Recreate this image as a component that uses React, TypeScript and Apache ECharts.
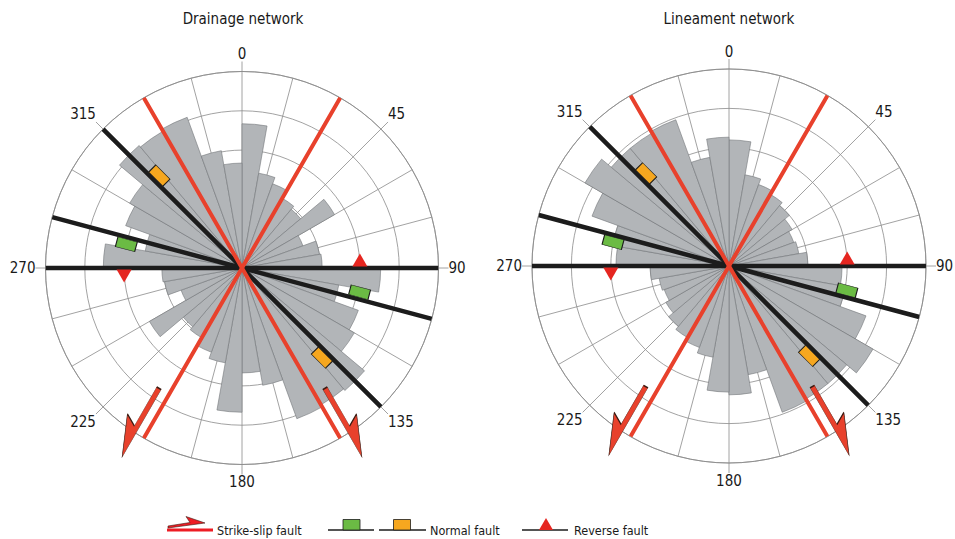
import React, { useEffect, useRef } from 'react';
import * as echarts from 'echarts';

// 10-degree orientation bins (0 = north, clockwise)
const binLabels = [
  '0', '10', '20', '30', '40', '50', '60', '70', '80',
  '90', '100', '110', '120', '130', '140', '150', '160', '170',
  '180', '190', '200', '210', '220', '230', '240', '250', '260',
  '270', '280', '290', '300', '310', '320', '330', '340', '350',
];

// bar lengths, in grid rings (outer ring = 5)
const drainageValues = [
  3.67, 2.45, 2.28, 2.05, 1.95, 2.72, 1.65, 2.0, 2.04,
  3.53, 2.5, 3.15, 3.3, 4.07, 4.02, 4.08, 3.03, 2.67,
  3.67, 2.45, 2.28, 2.05, 1.95, 2.72, 1.65, 2.0, 2.04,
  3.53, 2.5, 3.15, 3.3, 4.07, 4.02, 4.08, 3.03, 2.67,
];
const lineamentValues = [
  3.2, 2.35, 2.2, 2.1, 2.0, 1.85, 1.75, 1.8, 2.0,
  2.87, 3.0, 3.7, 4.22, 3.9, 3.9, 3.95, 2.8, 3.27,
  3.2, 2.35, 2.2, 2.1, 2.0, 1.85, 1.75, 1.8, 2.0,
  2.87, 3.0, 3.7, 4.22, 3.9, 3.9, 3.95, 2.8, 3.27,
];

const angleTickLabels = [0, 45, 90, 135, 180, 225, 270, 315];
const chartTitles = ['Drainage network', 'Lineament network'];

// fault traces (bearing of one end, the line runs through the centre)
const strikeSlipBearings = [330, 30];
const faultBearings = [90, 105, 135];
const greenMarkers = [
  { r: 3.05, bearing: 105, offset: [1.8, -6.8] },
  { r: 3.0, bearing: 285, offset: [-1.8, 6.8] },
];
const orangeMarkers = [
  { r: 3.15, bearing: 315, offset: [4.9, -4.9] },
  { r: 3.05, bearing: 135, offset: [-4.9, 4.9] },
];
const reverseMarkers = [
  { r: 3.0, bearing: 90, offset: [0, -8], rotate: 0 },
  { r: 3.0, bearing: 270, offset: [0, 8], rotate: 180 },
];
const arrowMarkers = [
  { r: 4.72, bearing: 215.5, rotate: -30, path: 'path://M12 0 L17 0 L17 78 L0 38 L12 45 Z' },
  { r: 4.72, bearing: 144.5, rotate: 30, path: 'path://M5 0 L0 0 L0 78 L17 38 L5 45 Z' },
];

const FONT = "'DejaVu Sans Condensed',sans-serif";
const GRID = '#8a8a8a';
const RED = '#e8412c';
const BLACK = '#1c1c1c';

function buildPolar(k: number, center: number[], radius: number, values: number[]) {
  const g = k * 2;
  const b = k * 2 + 1;
  const polar = [
    { center, radius },
    { center, radius },
  ];
  const angleAxis = [
    {
      polarIndex: g, type: 'value', min: 0, max: 360, interval: 45,
      startAngle: 90, clockwise: true,
      axisLine: { show: true, lineStyle: { color: GRID, width: 0.8 } },
      axisTick: { show: true, length: 10, lineStyle: { color: GRID, width: 0.8 } },
      axisLabel: {
        show: true, margin: 10, fontSize: 15, color: '#1a1a1a', fontFamily: FONT,
        formatter: (v: number) => (angleTickLabels.indexOf(v) >= 0 ? String(v) : ''),
      },
      splitLine: { show: true, lineStyle: { color: GRID, width: 0.8 } },
      minorTick: { show: false, splitNumber: 3 },
      minorSplitLine: { show: true, lineStyle: { color: GRID, width: 0.8 } },
    },
    {
      polarIndex: b, type: 'category', data: binLabels, startAngle: 90, clockwise: true,
      boundaryGap: true,
      axisLine: { show: false }, axisTick: { show: false }, axisLabel: { show: false },
      splitLine: { show: false },
    },
  ];
  const radiusAxis = [
    {
      polarIndex: g, type: 'value', min: 0, max: 5, interval: 1,
      axisLine: { show: false }, axisTick: { show: false }, axisLabel: { show: false },
      splitLine: { show: true, lineStyle: { color: GRID, width: 0.8 } },
    },
    {
      polarIndex: b, type: 'value', min: 0, max: 5, interval: 1,
      axisLine: { show: false }, axisTick: { show: false }, axisLabel: { show: false },
      splitLine: { show: false },
    },
  ];
  const series: any[] = [
    {
      type: 'bar', coordinateSystem: 'polar', polarIndex: b, data: values,
      barCategoryGap: '0%', barGap: '0%', silent: true, z: 2,
      itemStyle: { color: '#b2b5b8', borderColor: '#74777a', borderWidth: 0.6 },
    },
  ];
  faultBearings.forEach((a) => {
    series.push({
      type: 'line', coordinateSystem: 'polar', polarIndex: g, silent: true, z: 3,
      symbol: 'none', showSymbol: false,
      data: [[5, a], [0, a], [5, (a + 180) % 360]],
      lineStyle: { color: BLACK, width: 4.5 },
    });
  });
  strikeSlipBearings.forEach((a) => {
    series.push({
      type: 'line', coordinateSystem: 'polar', polarIndex: g, silent: true, z: 4,
      symbol: 'none', showSymbol: false,
      data: [[5, a], [0, a], [5, (a + 180) % 360]],
      lineStyle: { color: RED, width: 4 },
    });
  });
  series.push({
    type: 'scatter', coordinateSystem: 'polar', polarIndex: g, silent: true, z: 5,
    symbol: 'rect', symbolSize: [20, 10], symbolRotate: -15,
    itemStyle: { color: '#6bbb44', borderColor: BLACK, borderWidth: 0.8, opacity: 1 },
    data: greenMarkers.map((m) => ({ value: [m.r, m.bearing], symbolOffset: m.offset })),
  });
  series.push({
    type: 'scatter', coordinateSystem: 'polar', polarIndex: g, silent: true, z: 5,
    symbol: 'rect', symbolSize: [20, 10], symbolRotate: -45,
    itemStyle: { color: '#f6a71f', borderColor: BLACK, borderWidth: 0.8, opacity: 1 },
    data: orangeMarkers.map((m) => ({ value: [m.r, m.bearing], symbolOffset: m.offset })),
  });
  series.push({
    type: 'scatter', coordinateSystem: 'polar', polarIndex: g, silent: true, z: 5,
    symbol: 'triangle', symbolSize: [15, 13],
    itemStyle: { color: '#e52620', opacity: 1 },
    data: reverseMarkers.map((m) => ({ value: [m.r, m.bearing], symbolOffset: m.offset, symbolRotate: m.rotate })),
  });
  series.push({
    type: 'scatter', coordinateSystem: 'polar', polarIndex: g, silent: true, z: 6,
    symbolSize: [17, 78], symbolKeepAspect: false,
    itemStyle: { color: RED, borderColor: '#3b1b12', borderWidth: 0.7, opacity: 1 },
    data: arrowMarkers.map((m) => ({ value: [m.r, m.bearing], symbol: m.path, symbolRotate: m.rotate })),
  });
  return { polar, angleAxis, radiusAxis, series };
}

export default function App() {
  const ref = useRef<HTMLDivElement>(null);
  useEffect(() => {
    if (!ref.current) return;
    const chart = echarts.init(ref.current, undefined, { renderer: 'svg' });
    const left = buildPolar(0, [242, 268], 196.5, drainageValues);
    const right = buildPolar(1, [729, 266], 197, lineamentValues);
    const textStyle = (text: string, x: number, y: number, size: number, align = 'center') => ({
      type: 'text',
      style: { text, x, y, font: `${size}px ${FONT}`, fill: '#1a1a1a', textAlign: align, textVerticalAlign: 'middle' },
    });
    const graphic: any[] = [
      textStyle(chartTitles[0], 243, 19, 15),
      textStyle(chartTitles[1], 729, 19, 15),
      // legend: strike-slip
      { type: 'line', shape: { x1: 167, y1: 530, x2: 213, y2: 530 }, style: { stroke: '#ed1c24', lineWidth: 3 } },
      {
        type: 'polygon',
        shape: { points: [[168, 528], [205, 523], [186, 516.5], [190, 522.5], [168, 526]] },
        style: { fill: '#ed1c24', stroke: '#3b1b12', lineWidth: 0.6 },
      },
      textStyle('Strike-slip fault', 217, 530, 12.5, 'left'),
      // legend: normal fault
      { type: 'line', shape: { x1: 328, y1: 530, x2: 374, y2: 530 }, style: { stroke: BLACK, lineWidth: 1.3 } },
      { type: 'rect', shape: { x: 343, y: 519.5, width: 17, height: 10.5 }, style: { fill: '#6bbb44', stroke: BLACK, lineWidth: 0.8 } },
      { type: 'line', shape: { x1: 379, y1: 530, x2: 426, y2: 530 }, style: { stroke: BLACK, lineWidth: 1.3 } },
      { type: 'rect', shape: { x: 393.5, y: 519.5, width: 17, height: 10.5 }, style: { fill: '#f6a71f', stroke: BLACK, lineWidth: 0.8 } },
      textStyle('Normal fault', 430, 530, 12.5, 'left'),
      // legend: reverse fault
      { type: 'line', shape: { x1: 522, y1: 530, x2: 568, y2: 530 }, style: { stroke: BLACK, lineWidth: 1.3 } },
      { type: 'polygon', shape: { points: [[539, 530], [553, 530], [546, 518]] }, style: { fill: '#e52620' } },
      textStyle('Reverse fault', 574, 530, 12.5, 'left'),
    ];
    chart.setOption({
      animation: false,
      backgroundColor: '#ffffff',
      polar: [...left.polar, ...right.polar],
      angleAxis: [...left.angleAxis, ...right.angleAxis],
      radiusAxis: [...left.radiusAxis, ...right.radiusAxis],
      series: [...left.series, ...right.series],
      graphic,
    });
    return () => chart.dispose();
  }, []);
  return <div ref={ref} style={{ position: 'fixed', left: 0, top: 0, width: 955, height: 539 }} />;
}
